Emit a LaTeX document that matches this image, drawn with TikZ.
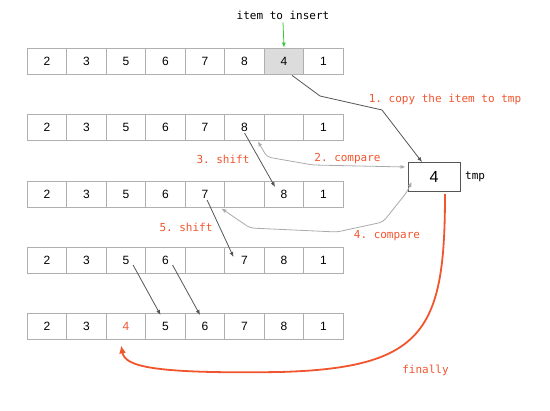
\documentclass[tikz,border=0pt]{standalone}
\usepackage{fontspec}
\setmainfont{Liberation Sans}
\setmonofont{DejaVu Sans Mono}
\usetikzlibrary{arrows.meta,calc}
\definecolor{orng}{RGB}{240,85,45}
\definecolor{cellline}{RGB}{175,175,175}
\definecolor{darkarr}{RGB}{85,85,85}
\definecolor{lightarr}{RGB}{170,170,170}
\definecolor{grn}{RGB}{60,200,60}
\definecolor{hilite}{RGB}{220,220,220}
\tikzset{
  cell/.style={draw=cellline, line width=0.8pt, minimum width=39.5pt, minimum height=26pt, inner sep=0pt, font=\fontsize{12}{12}\selectfont},
  lab/.style={text=orng, font=\ttfamily\fontsize{11}{11}\selectfont, inner sep=0pt},
  darrow/.style={draw=darkarr, line width=0.8pt, -{Latex[length=5pt,width=4pt]}},
  larrow/.style={draw=lightarr, line width=0.8pt, {Latex[length=5pt,width=4pt]}-{Latex[length=5pt,width=4pt]}, rounded corners=4pt},
}
\begin{document}
\begin{tikzpicture}[x=1pt,y=-1pt]
\useasboundingbox (0,0) rectangle (550,411);
% rows
\foreach \v [count=\c] in {2,3,5,6,7,8,4,1}
  \node[cell] (r1c\c) at ({7.55+39.5*\c},61) {\v};
\foreach \v [count=\c] in {2,3,5,6,7,8,{},1}
  \node[cell] (r2c\c) at ({7.55+39.5*\c},127) {\v};
\foreach \v [count=\c] in {2,3,5,6,7,{},8,1}
  \node[cell] (r3c\c) at ({7.55+39.5*\c},194) {\v};
\foreach \v [count=\c] in {2,3,5,6,{},7,8,1}
  \node[cell] (r4c\c) at ({7.55+39.5*\c},260) {\v};
\foreach \v [count=\c] in {2,3,{},5,6,7,8,1}
  \node[cell] (r5c\c) at ({7.55+39.5*\c},326) {\v};
\node[cell, fill=hilite] at (r1c7) {4};
\node[cell, text=orng] at (r5c3) {4};
% tmp box
\node[draw=darkarr, line width=0.8pt, minimum width=52pt, minimum height=29pt, inner sep=0pt, font=\fontsize{16}{16}\selectfont] (tmp) at (434,177) {4};
\node[font=\ttfamily\fontsize{11}{11}\selectfont, anchor=west, inner sep=0pt] (tmplab) at (465,177) {tmp};
% top label
\node[font=\ttfamily\fontsize{11}{11}\selectfont, inner sep=0pt] (ins) at (283,15) {item to insert};
\draw[draw=grn, line width=0.8pt, -{Latex[length=5pt,width=4pt]}] ($(ins.south)+(0,3)$) -- (r1c7.north);
% labels
\node[lab] (l1) at (445,99) {1. copy the item to tmp};
\node[lab] (l2) at (347.5,159) {2. compare};
\node[lab] (l3) at (223,159) {3. shift};
\node[lab] (l4) at (387,235.5) {4. compare};
\node[lab] (l5) at (186,227) {5. shift};
\node[lab] (l6) at (425.5,370) {finally};
% 1. copy
\draw[darrow] ($(r1c7.south)+(8,1)$) -- (320,96) -- (382,110) -- ($(tmp.north)+(-12,0)$);
% 2. compare
\draw[larrow] ($(r2c7.south west)+(-6,1)$) -- (267,157) -- (313,165) -- ($(tmp.west)+(-2,-10)$);
% 3. shift
\draw[darrow] ($(r2c6.center)+(0,6)$) -- ($(r3c7.center)+(-9,-7)$);
% 4. compare
\draw[larrow] ($(r3c6.south west)+(-3,1)$) -- (250,228) -- (337,232) -- (383,222) -- (407,192) -- ($(tmp.south west)+(4,-10)$);
% 5. shift
\draw[darrow] ($(r3c5.center)+(2,6)$) -- ($(r4c6.center)+(-11,-3)$);
% row 4 -> row 5 shifts
\draw[darrow] ($(r4c3.center)+(7,5)$) -- ($(r5c4.center)+(-5,-11)$);
\draw[darrow] ($(r4c4.center)+(7,5)$) -- ($(r5c5.center)+(-5,-11)$);
% finally
\draw[draw=orng, line width=1.8pt, -{Latex[length=8pt,width=7pt]}] ($(tmp.south)+(11,2)$) .. controls (445,330) and (425,368) .. (280,372) .. controls (150,374) and (125,366) .. ($(r5c3.south)+(-5,6)$);
\end{tikzpicture}
\end{document}
